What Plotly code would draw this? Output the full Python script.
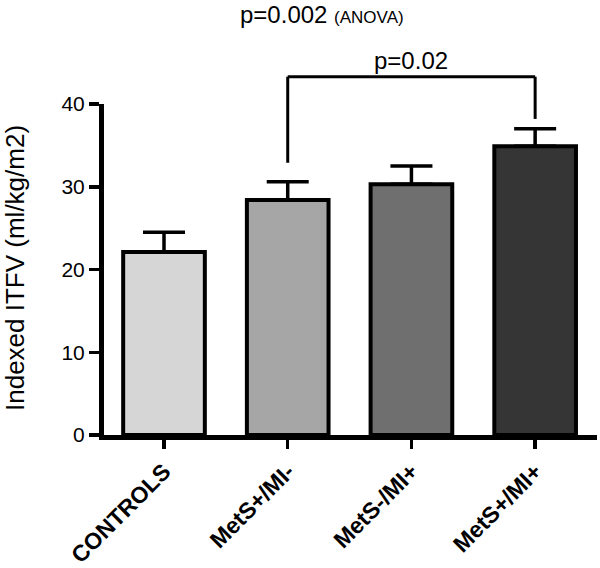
import plotly.graph_objects as go

categories = ["CONTROLS", "MetS+/MI-", "MetS-/MI+", "MetS+/MI+"]
means = [22.1, 28.4, 30.3, 34.9]
sem = [2.4, 2.2, 2.2, 2.1]
colors = ["#d6d6d6", "#a6a6a6", "#6f6f6f", "#353535"]
yticks = [0, 10, 20, 30, 40]

W, H = 600, 568
ml, mr, mt, mb = 104, 3, 104, 133
pw = W - ml - mr
ph = H - mt - mb


def px2paper_x(px):
    return (px - ml) / pw


def px2paper_y(py):
    return (H - mb - py) / ph


def ypaper(v):
    return v / 40.0


FONT = "Liberation Sans, Arial, sans-serif"

fig = go.Figure()
fig.add_trace(go.Bar(
    x=categories, y=means,
    marker=dict(color=colors, line=dict(color="black", width=4)),
    error_y=dict(type="data", array=sem, arrayminus=[0] * 4, symmetric=False,
                 color="black", thickness=3.5, width=21),
    width=0.66,
))

# significance bracket
br_top = ypaper(43.3)
for x0, x1, y0, y1 in [(1, 1, ypaper(32.9), br_top),
                       (3, 3, ypaper(38.2), br_top),
                       (1, 3, br_top, br_top)]:
    fig.add_shape(type="line", xref="x", yref="paper", x0=x0, x1=x1, y0=y0, y1=y1,
                  line=dict(color="black", width=3))

fig.add_annotation(x=2, xref="x", y=br_top, yref="paper", yanchor="bottom", xanchor="center",
                   yshift=1, text="p=0.02", showarrow=False,
                   font=dict(family=FONT, size=24, color="black"))
fig.add_annotation(x=px2paper_x(322), xref="paper", y=px2paper_y(14), yref="paper",
                   xanchor="center", yanchor="middle", showarrow=False,
                   text="p=0.002 <span style='font-size:17px'>(ANOVA)</span>",
                   font=dict(family=FONT, size=24, color="black"))
# y axis title
fig.add_annotation(x=px2paper_x(15), xref="paper", y=px2paper_y(268), yref="paper",
                   xanchor="center", yanchor="middle", textangle=-90, showarrow=False,
                   text="Indexed ITFV (ml/kg/m2)",
                   font=dict(family=FONT, size=26, color="black"))

fig.update_layout(
    width=W, height=H,
    margin=dict(l=ml, r=mr, t=mt, b=mb, autoexpand=False),
    paper_bgcolor="white", plot_bgcolor="white",
    showlegend=False,
    font=dict(family=FONT, color="black"),
    xaxis=dict(
        range=[-0.485, 3.5], showgrid=False, zeroline=False, automargin=False,
        showline=True, linecolor="black", linewidth=5,
        ticks="outside", ticklen=9, tickwidth=3.5, tickcolor="black",
        tickangle=-45,
        tickfont=dict(family=FONT, size=23, color="black", weight="bold"),
    ),
    yaxis=dict(
        range=[0, 40], showgrid=False, zeroline=False, automargin=False,
        showline=True, linecolor="black", linewidth=5,
        ticks="outside", ticklen=10, tickwidth=3.5, tickcolor="black",
        tickvals=yticks, ticktext=[str(v) for v in yticks],
        tickfont=dict(family=FONT, size=21, color="black"),
    ),
)

fig.write_html(
    "out.html",
    config={"displayModeBar": False, "staticPlot": True},
    post_script=("document.body.style.margin='0px';document.body.style.padding='0px';"
                 "document.documentElement.style.overflow='hidden';"
                 "document.body.style.overflow='hidden';"),
)
